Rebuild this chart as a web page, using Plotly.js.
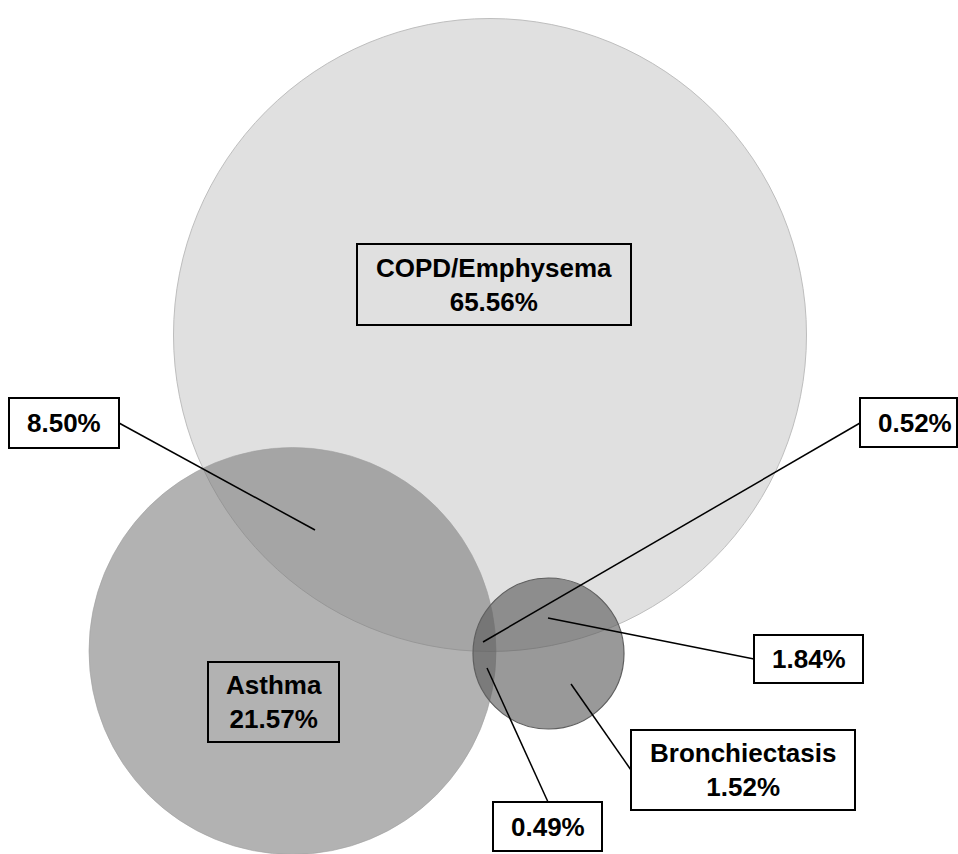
<!DOCTYPE html>
<html>
<head>
<meta charset="utf-8">
<script src="https://cdn.plot.ly/plotly-3.0.1.min.js"></script>
<style>
  html, body { margin: 0; padding: 0; background: #ffffff; }
  #chart { width: 958px; height: 854px; }
</style>
</head>
<body>
<div id="chart"></div>
<script>
// ---- Data ----
const setNames = ['COPD/Emphysema', 'Asthma', 'Bronchiectasis'];
const setOnlyPct = [65.56, 21.57, 1.52];
const overlapNames = ['COPD/Emphysema ∩ Asthma', 'All three', 'COPD/Emphysema ∩ Bronchiectasis', 'Asthma ∩ Bronchiectasis'];
const overlapPct = [8.50, 0.52, 1.84, 0.49];

// ---- Layout geometry (pixel-like axis units) ----
const circleGeom = [
  { cx: 490,   cy: 335,   r: 316.5, fill: 'rgb(224,224,224)',        line: 'rgba(190,190,190,1)', lw: 1 },
  { cx: 292.5, cy: 651,   r: 203.5, fill: 'rgba(122,122,122,0.58)',  line: 'rgba(160,160,160,0.6)', lw: 1 },
  { cx: 548.5, cy: 653.5, r: 75.5,  fill: 'rgba(89,89,89,0.613)',    line: 'rgba(95,95,95,1)', lw: 1.2 }
];
const setBoxes = [
  { x0: 357, x1: 631, y0: 244, y1: 325, fill: 'rgba(0,0,0,0)' },
  { x0: 208, x1: 339, y0: 662, y1: 742, fill: 'rgba(0,0,0,0)' },
  { x0: 631, x1: 855, y0: 730, y1: 810, fill: '#ffffff' }
];
const overlapBoxes = [
  { x0: 9,   x1: 119, y0: 398, y1: 448, tx: 64,    lx0: 119, ly0: 423, lx1: 315, ly1: 530 },
  { x0: 860, x1: 957, y0: 398, y1: 447, tx: 914.5, lx0: 860, ly0: 423, lx1: 483, ly1: 642 },
  { x0: 754, x1: 863, y0: 635, y1: 683, tx: 808.5, lx0: 754, ly0: 659, lx1: 548, ly1: 618 },
  { x0: 493, x1: 602, y0: 802, y1: 851, tx: 547.5, lx0: 548, ly0: 802, lx1: 487, ly1: 668 }
];
const setLeader = [null, null, { lx0: 631, ly0: 770, lx1: 571, ly1: 684 }];

const fmt = v => v.toFixed(2) + '%';
const FONT = { family: 'Liberation Sans, Arial, sans-serif', size: 26, color: '#000000' };

const shapes = [];
const annotations = [];

circleGeom.forEach(c => {
  shapes.push({
    type: 'circle', xref: 'x', yref: 'y', layer: 'above',
    x0: c.cx - c.r, x1: c.cx + c.r, y0: c.cy - c.r, y1: c.cy + c.r,
    fillcolor: c.fill, line: { color: c.line, width: c.lw }
  });
});

overlapBoxes.forEach(b => {
  shapes.push({ type: 'line', xref: 'x', yref: 'y', layer: 'above',
    x0: b.lx0, y0: b.ly0, x1: b.lx1, y1: b.ly1, line: { color: '#000', width: 1.5 } });
});
setLeader.forEach(l => {
  if (!l) return;
  shapes.push({ type: 'line', xref: 'x', yref: 'y', layer: 'above',
    x0: l.lx0, y0: l.ly0, x1: l.lx1, y1: l.ly1, line: { color: '#000', width: 1.5 } });
});

setNames.forEach((name, i) => {
  const b = setBoxes[i];
  shapes.push({ type: 'rect', xref: 'x', yref: 'y', layer: 'above',
    x0: b.x0, x1: b.x1, y0: b.y0, y1: b.y1, fillcolor: b.fill, line: { color: '#000', width: 2 } });
  annotations.push({ xref: 'x', yref: 'y', x: (b.x0 + b.x1) / 2, y: (b.y0 + b.y1) / 2,
    text: '<b>' + name + '<br>' + fmt(setOnlyPct[i]) + '</b>', showarrow: false,
    xanchor: 'center', yanchor: 'middle', align: 'center', font: FONT });
});

overlapPct.forEach((v, i) => {
  const b = overlapBoxes[i];
  shapes.push({ type: 'rect', xref: 'x', yref: 'y', layer: 'above',
    x0: b.x0, x1: b.x1, y0: b.y0, y1: b.y1, fillcolor: '#ffffff', line: { color: '#000', width: 2 } });
  annotations.push({ xref: 'x', yref: 'y', x: b.tx, y: (b.y0 + b.y1) / 2,
    text: '<b>' + fmt(v) + '</b>', showarrow: false,
    xanchor: 'center', yanchor: 'middle', align: 'center', font: FONT });
});

const data = [{ type: 'scatter', x: [], y: [], hoverinfo: 'skip', showlegend: false }];

const layout = {
  width: 958, height: 854,
  margin: { l: 0, r: 0, t: 0, b: 0, pad: 0 },
  paper_bgcolor: '#ffffff', plot_bgcolor: '#ffffff',
  xaxis: { range: [0, 958], visible: false, fixedrange: true },
  yaxis: { range: [854, 0], visible: false, fixedrange: true },
  shapes: shapes,
  annotations: annotations,
  showlegend: false
};

Plotly.newPlot('chart', data, layout, { staticPlot: true, displayModeBar: false });
</script>
</body>
</html>
